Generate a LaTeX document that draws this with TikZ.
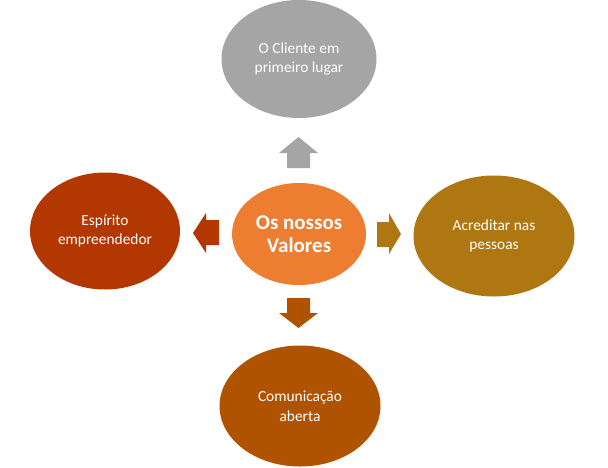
\documentclass[tikz,border=0pt]{standalone}
\usepackage{fontspec}
\setmainfont{Carlito}
\usetikzlibrary{shapes.geometric}
\definecolor{cgray}{HTML}{A5A5A5}
\definecolor{corange}{HTML}{ED7D31}
\definecolor{cred}{HTML}{B33700}
\definecolor{cgold}{HTML}{AE7712}
\definecolor{cbrown}{HTML}{B05300}
\tikzset{
  oval/.style={ellipse, inner sep=0pt, text=white, align=center,
    font=\fontsize{15.4}{19.5}\selectfont}
}
\begin{document}
\begin{tikzpicture}[x=1pt,y=-1pt]
\useasboundingbox (0,0) rectangle (608,467);
\fill[white] (0,0) rectangle (608,467);
\node[oval, fill=cgray, minimum width=155, minimum height=118] (top) at (299,59) {O Cliente em\\primeiro lugar};
\node[oval, fill=corange, minimum width=134, minimum height=102, font=\bfseries\fontsize{21}{23.5}\selectfont] (mid) at (299,234) {Os nossos\\Valores};
\node[oval, fill=cred, minimum width=150, minimum height=117] (left) at (105,231) {Espírito\\empreendedor};
\node[oval, fill=cgold, minimum width=161, minimum height=121] (right) at (494,236) {Acreditar nas\\pessoas};
\node[oval, fill=cbrown, minimum width=161, minimum height=121] (bottom) at (300,406) {Comunicação\\aberta};
% block arrows
\fill[cgray] (287,168) -- (287,153) -- (279,153) -- (298.5,137) -- (318,153) -- (310,153) -- (310,168) -- cycle;
\fill[cred] (219,220) -- (206,220) -- (206,213) -- (193,233) -- (206,253) -- (206,245) -- (219,245) -- cycle;
\fill[cgold] (377,222) -- (389,222) -- (389,213) -- (401,234) -- (389,254) -- (389,247) -- (377,247) -- cycle;
\fill[cbrown] (287,298) -- (310,298) -- (310,313) -- (318,313) -- (298.5,328) -- (279,313) -- (287,313) -- cycle;
\end{tikzpicture}
\end{document}
